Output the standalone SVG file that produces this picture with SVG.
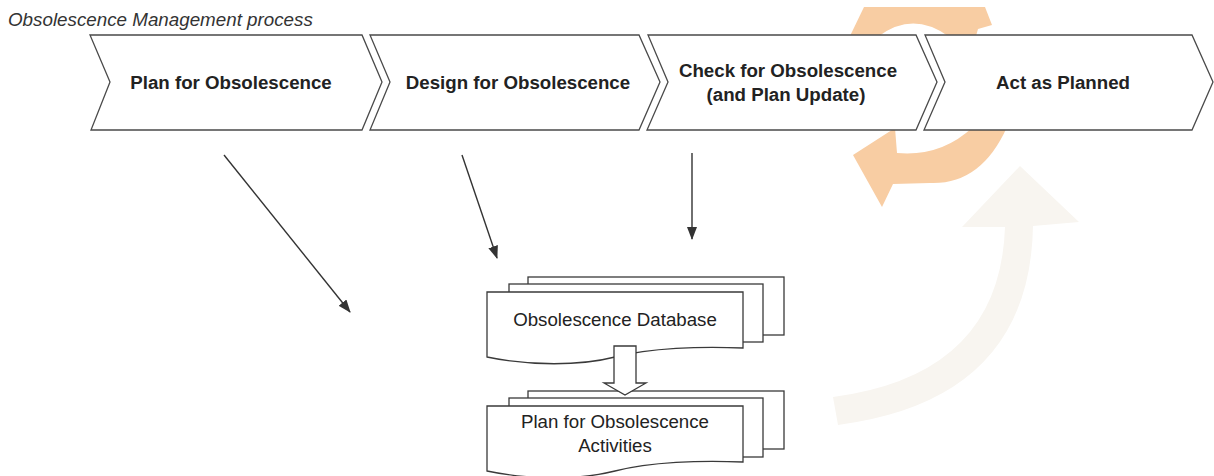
<svg xmlns="http://www.w3.org/2000/svg" width="1214" height="476" viewBox="0 0 1214 476">
  <style>
    .chev { fill: #ffffff; stroke: #4a4a4a; stroke-width: 1.3; stroke-linejoin: miter; }
    .sheet { fill: #ffffff; stroke: #3a3a3a; stroke-width: 1.3; }
    .bold { font-family: "Liberation Sans", Arial, sans-serif; font-weight: bold; font-size: 18.7px; fill: #222222; text-anchor: middle; }
    .reg { font-family: "Liberation Sans", Arial, sans-serif; font-size: 18.7px; fill: #222222; text-anchor: middle; }
    .title { font-family: "Liberation Sans", Arial, sans-serif; font-style: italic; font-size: 18.8px; fill: #333333; }
    .conn { stroke: #333333; stroke-width: 1.4; fill: none; }
  </style>
  <defs>
    <marker id="ah" markerUnits="userSpaceOnUse" markerWidth="13" markerHeight="10" refX="12" refY="5" orient="auto">
      <path d="M0,0 L13,5 L0,10 Z" fill="#333333"/>
    </marker>
  </defs>

  <rect x="0" y="0" width="1214" height="476" fill="#ffffff"/>

  <!-- background decorative cycle arrows -->
  <g id="background">
    <path d="M833,397 Q1000,375 1005,227 L962,227 L1020,166 L1079,222 L1033,226 Q1030,400 838,425 Z" fill="#F8F5F0"/>
    <path d="M850,36 L864,7 L985,7 L992,25 L978,29 L976,36 L948,36 Q913,11 879,36 Z" fill="#F8CDA3"/>
    <path d="M853,155 L895,128 L897,153 Q941,157 973,127 L1007,127 Q981,185 930,183 L893,184 L882,207 Z" fill="#F8CDA3"/>
  </g>

  <text class="title" x="8" y="26">Obsolescence Management process</text>

  <g id="step1">
    <path class="chev" d="M90,35 L362,35 L382,82 L362,130 L91,130 L110,82 Z"/>
    <text class="bold" x="231" y="89">Plan for Obsolescence</text>
  </g>
  <g id="step2">
    <path class="chev" d="M370,35 L639,35 L660,82 L639,130 L370,130 L390,82 Z"/>
    <text class="bold" x="518" y="89">Design for Obsolescence</text>
  </g>
  <g id="step3">
    <path class="chev" d="M648,35 L916,35 L937,82 L916,130 L647,130 L668,82 Z"/>
    <text class="bold" x="788" y="77">Check for Obsolescence</text>
    <text class="bold" x="786" y="101">(and Plan Update)</text>
  </g>
  <g id="step4">
    <path class="chev" d="M925,35 L1192,35 L1213,82 L1192,130 L924,130 L945,82 Z"/>
    <text class="bold" x="1063" y="89">Act as Planned</text>
  </g>

  <g id="connectors">
    <line class="conn" x1="224" y1="155" x2="350" y2="312" marker-end="url(#ah)"/>
    <line class="conn" x1="462" y1="155" x2="497" y2="258" marker-end="url(#ah)"/>
    <line class="conn" x1="692" y1="153" x2="692" y2="239" marker-end="url(#ah)"/>
  </g>

  <g id="database">
    <rect class="sheet" x="528" y="277" width="256" height="58"/>
    <rect class="sheet" x="509" y="284" width="254" height="58"/>
    <path class="sheet" d="M487,292 L743,292 L743,348 C700,346 650,348 615,357 C580,366 530,366 487,357 Z"/>
    <text class="reg" x="615" y="326">Obsolescence Database</text>
  </g>

  <g id="plan-activities">
    <rect class="sheet" x="528" y="391" width="256" height="58"/>
    <rect class="sheet" x="509" y="398" width="254" height="59"/>
    <path class="sheet" d="M487,406 L743,406 L743,462 C700,460 650,462 615,471 C580,480 530,480 487,471 Z"/>
    <text class="reg" x="615" y="428">Plan for Obsolescence</text>
    <text class="reg" x="615" y="452">Activities</text>
  </g>

  <g id="flow-arrow">
    <path class="sheet" d="M614,346 L636,346 L636,383 L646,383 L625,395 L604,383 L614,383 Z"/>
  </g>
</svg>
